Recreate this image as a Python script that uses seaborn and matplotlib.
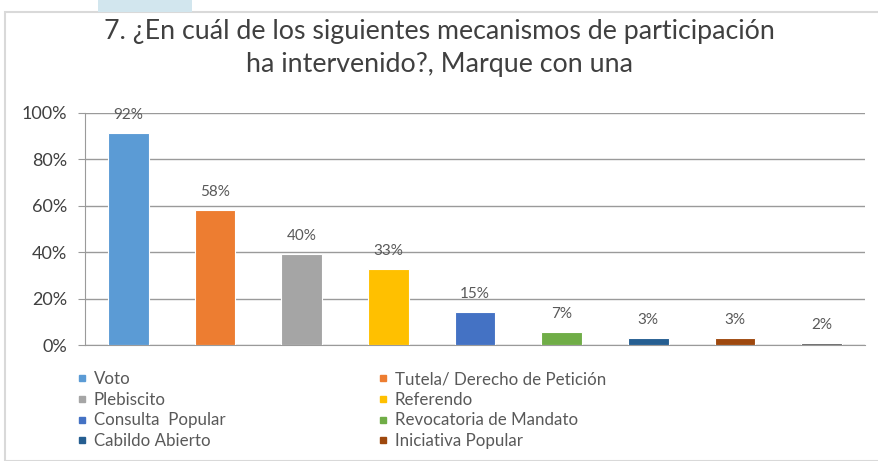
import matplotlib
matplotlib.use("Agg")
import matplotlib.pyplot as plt
import seaborn as sns
import pandas as pd
from matplotlib.lines import Line2D
from matplotlib.patches import Rectangle

# data
categorias = ['Voto', 'Tutela/ Derecho de Petición', 'Plebiscito', 'Referendo',
              'Consulta  Popular', 'Revocatoria de Mandato', 'Cabildo Abierto',
              'Iniciativa Popular', 'Otro']
alturas = [0.91, 0.58, 0.39, 0.325, 0.14, 0.057, 0.029, 0.029, 0.008]
etiquetas = ['92%', '58%', '40%', '33%', '15%', '7%', '3%', '3%', '2%']
colores = ['#5B9BD5', '#ED7D31', '#A5A5A5', '#FFC000', '#4472C4',
           '#70AD47', '#255E91', '#9E480E', '#636363']
yticks = [0, 0.2, 0.4, 0.6, 0.8, 1.0]
ytick_labels = ['0%', '20%', '40%', '60%', '80%', '100%']
titulo = '7. ¿En cuál de los siguientes mecanismos de participación\nha intervenido?, Marque con una'

df = pd.DataFrame({'mecanismo': categorias, 'valor': alturas})

sns.set_style('white')
plt.rcParams['font.family'] = ['Lato', 'DejaVu Sans']
texto = '#595959'

fig = plt.figure(figsize=(8.79, 4.61), dpi=100)
ax = fig.add_axes([0.0967, 0.2516, 0.8874, 0.5043])

sns.barplot(x='mecanismo', y='valor', hue='mecanismo', data=df, palette=colores,
            saturation=1, dodge=False, legend=False, width=0.47,
            edgecolor='white', linewidth=0.8, ax=ax, zorder=3)

ax.set_xlim(-0.5, len(categorias) - 0.5)
ax.set_ylim(0, 1.0)
ax.set_yticks(yticks)
ax.set_yticklabels(ytick_labels, fontsize=13, color='#404040')
ax.set_xticks([])
ax.set_xlabel('')
ax.set_ylabel('')
ax.yaxis.grid(True, color='#9a9a9a', linewidth=1.0, zorder=0)
ax.set_axisbelow(True)
ax.tick_params(axis='y', length=5, color='#9a9a9a', direction='out', left=True, pad=8)
for side in ['top', 'right']:
    ax.spines[side].set_visible(False)
ax.spines['left'].set_color('#9a9a9a')
ax.spines['bottom'].set_color('#9a9a9a')

for i, (h, lab) in enumerate(zip(alturas, etiquetas)):
    ax.annotate(lab, (i, h), xytext=(0, 13), textcoords='offset points',
                ha='center', va='center', fontsize=11, color=texto)

fig.text(0.5, 1 - 48 / 461, titulo, ha='center', va='center', fontsize=19.3,
         color='#404040', linespacing=1.38)

# legend: two columns, items ordered like the reference
def handle(c):
    return Line2D([0], [0], marker='s', linestyle='none', markersize=5,
                  markerfacecolor=c, markeredgecolor=c)

col1 = [0, 2, 4, 6]
col2 = [1, 3, 5, 7]
for idx, xpos in [(col1, 77 / 879), (col2, 378 / 879)]:
    fig.legend([handle(colores[i]) for i in idx], [categorias[i] for i in idx],
               loc='upper left', bbox_to_anchor=(xpos, 1 - 371 / 461),
               frameon=False, fontsize=12.2, labelcolor=texto, handlelength=0.6,
               handletextpad=0.4, labelspacing=0.28, borderaxespad=0, borderpad=0)

# chart frame and the strip at the top
fig.add_artist(Rectangle((5 / 879, 0), 1, 1 - 12 / 461, transform=fig.transFigure,
                         fill=False, edgecolor='#d9d9d9', linewidth=1.5))
fig.add_artist(Rectangle((98 / 879, 1 - 12 / 461), 94 / 879, 12 / 461,
                         transform=fig.transFigure, facecolor='#d2e6ee',
                         edgecolor='none'))

fig.savefig('out.png', dpi=100)
